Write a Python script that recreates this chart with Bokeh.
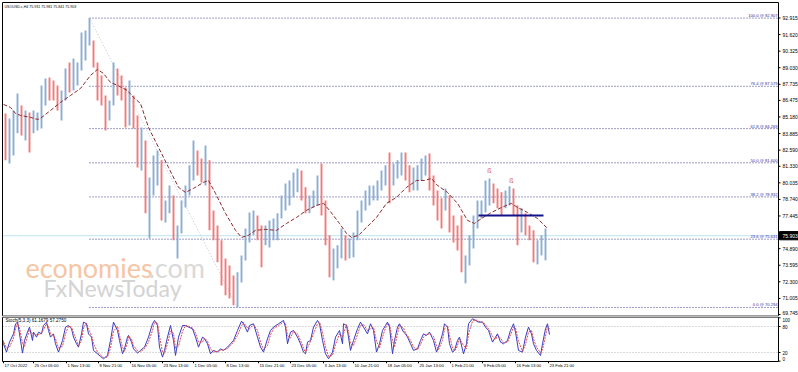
from bokeh.plotting import figure
from bokeh.layouts import column
from bokeh.models import Range1d
from bokeh.embed import file_html
from bokeh.resources import INLINE
from bokeh.core.properties import value

# ---------------- data (USOUSD H4, aggregated 4 bars per point) ----------------
bar_high = [85.46, 85.07, 85.69, 87.02, 86.08, 85.69, 85.54, 85.69, 85.54, 87.65,
            88.19, 88.27, 88.04, 87.65, 87.25, 88.97, 89.44, 89.75, 89.44, 91.79,
            91.94, 92.91, 91.16, 89.44, 88.43, 86.86, 86.47, 89.44, 88.97, 88.43,
            87.49, 88.04, 86.86, 85.30, 84.36, 83.35, 80.46, 82.18, 82.57, 81.79,
            78.66, 79.83, 79.05, 76.71, 78.66, 79.83, 81.40, 83.35, 82.57, 81.94,
            82.96, 81.79, 77.88, 76.71, 75.54, 74.13, 73.58, 72.80, 73.04, 74.36,
            76.47, 77.72, 77.88, 77.49, 76.71, 76.71, 77.10, 77.25, 77.65, 79.05,
            79.99, 80.22, 80.85, 81.16, 81.00, 79.68, 79.05, 79.44, 80.61, 81.55,
            78.66, 75.93, 74.91, 75.15, 76.47, 75.93, 75.69, 76.16, 77.88, 78.66,
            79.44, 79.83, 79.83, 80.22, 81.00, 81.40, 82.41, 81.55, 81.79, 82.41,
            82.41, 81.40, 81.24, 81.40, 81.94, 82.18, 82.33, 80.61, 79.44, 78.82,
            79.60, 79.05, 77.49, 76.71, 77.49, 74.36, 75.93, 77.49, 78.66, 78.66,
            80.22, 80.38, 79.99, 79.60, 79.29, 79.44, 79.76, 79.60, 78.27, 78.04,
            77.65, 76.71, 76.32, 75.54, 75.93, 76.47]
bar_low = [81.79, 81.55, 82.18, 83.90, 83.74, 83.35, 82.41, 83.90, 84.13, 84.29,
           86.08, 86.47, 86.47, 85.69, 84.91, 86.47, 87.10, 87.25, 87.65, 88.82,
           89.60, 90.77, 89.05, 86.47, 86.08, 84.13, 84.91, 86.08, 86.86, 86.47,
           84.36, 84.52, 84.29, 81.24, 81.00, 77.65, 75.69, 79.05, 79.83, 77.10,
           76.94, 77.65, 75.54, 74.13, 76.08, 78.11, 79.05, 80.22, 80.61, 80.07,
           79.83, 76.32, 75.54, 73.82, 72.02, 71.24, 71.00, 70.46, 70.29, 72.25,
           73.97, 75.38, 75.93, 75.54, 73.43, 75.15, 74.99, 75.54, 75.54, 77.25,
           77.88, 78.27, 78.90, 79.29, 78.66, 77.65, 77.65, 78.11, 78.27, 77.49,
           75.15, 72.65, 72.41, 73.35, 74.13, 73.97, 74.13, 74.21, 75.54, 76.94,
           77.88, 78.27, 78.66, 78.66, 79.44, 79.83, 78.43, 79.83, 80.38, 80.61,
           80.22, 79.29, 79.44, 79.44, 80.22, 80.61, 79.44, 78.27, 77.10, 76.47,
           77.88, 76.16, 75.38, 74.75, 73.04, 72.18, 73.58, 74.91, 76.47, 77.25,
           77.72, 78.27, 78.43, 78.04, 77.49, 78.04, 78.27, 77.49, 75.15, 76.16,
           75.93, 75.54, 73.82, 73.66, 74.36, 73.97]
bar_close = [83.35, 84.52, 84.91, 86.47, 84.91, 85.30, 84.52, 85.07, 85.30, 87.25,
             87.65, 87.41, 86.86, 86.47, 86.63, 88.43, 88.04, 88.82, 89.21, 90.77,
             91.16, 91.55, 89.99, 87.25, 86.47, 84.91, 85.69, 88.43, 87.65, 86.86,
             85.69, 86.47, 84.91, 81.79, 82.57, 78.66, 79.83, 81.40, 81.79, 77.88,
             78.04, 79.05, 75.93, 75.93, 78.27, 79.05, 81.00, 81.40, 81.00, 80.61,
             81.79, 77.49, 76.32, 74.75, 73.19, 72.41, 71.63, 71.24, 72.41, 73.82,
             75.54, 76.71, 77.25, 76.32, 75.93, 76.16, 76.32, 76.71, 77.10, 78.66,
             79.05, 79.44, 80.22, 80.38, 79.05, 78.27, 78.27, 79.05, 79.83, 77.88,
             75.54, 73.58, 73.82, 74.36, 75.54, 74.75, 75.15, 75.69, 77.49, 78.27,
             79.05, 79.29, 79.44, 79.83, 80.61, 81.00, 79.83, 81.00, 81.40, 81.79,
             80.61, 79.83, 80.22, 80.85, 81.40, 81.63, 79.83, 78.66, 77.88, 77.10,
             79.05, 76.71, 75.93, 75.54, 73.35, 73.58, 75.15, 76.94, 77.88, 78.27,
             79.29, 79.44, 79.05, 78.66, 78.27, 79.05, 79.29, 77.88, 76.71, 77.49,
             76.47, 75.93, 74.36, 74.75, 75.54, 75.90]
first_open = 84.00

# moving average (dashed) : bar index / value
ma_x = [0, 7, 12, 17, 27, 34, 37, 47, 57, 67, 77, 87, 94, 100, 107, 114, 124, 130,
        137, 145, 155, 165, 175, 182, 190, 200, 205, 212, 222, 232, 238, 245, 252,
        262, 273, 283, 293, 303, 313, 320, 326, 336, 343, 348, 355, 363, 373, 383,
        393, 403, 413, 421, 428, 434, 444, 454, 464, 471, 478, 488, 498, 508, 514,
        524, 534, 544]
ma_v = [86.16, 85.93, 85.46, 85.30, 85.15, 84.99, 85.07, 85.69, 86.32, 86.86, 87.41,
        88.43, 88.90, 88.58, 87.88, 87.65, 87.25, 86.71, 86.24, 84.36, 82.80, 81.24,
        79.68, 79.29, 79.60, 80.07, 80.22, 79.21, 77.65, 76.32, 75.77, 75.93, 76.32,
        76.40, 76.32, 76.86, 77.33, 77.88, 78.27, 78.43, 77.88, 76.86, 76.08, 75.77,
        75.93, 76.55, 77.33, 78.43, 78.90, 79.68, 80.22, 80.22, 80.38, 79.83, 79.29,
        78.43, 77.10, 76.86, 77.25, 77.72, 78.11, 78.43, 78.11, 77.72, 77.25, 76.47]

# price-axis tick labels
price_ticks = ["92.915", "91.620", "90.325", "89.030", "87.735", "86.475", "85.180",
               "83.885", "82.590", "81.330", "80.035", "78.740", "77.445", "76.150",
               "74.890", "73.595", "72.300", "71.005", "69.745"]

# Fibonacci retracement
fib_pct = [100.0, 76.4, 61.8, 50.0, 38.2, 23.6, 0.0]
fib_price = [92.907, 87.579, 84.269, 81.600, 78.932, 75.631, 70.294]

last_price = 75.903
header = "USOUSD.c,H4  75.931 75.981 75.841 75.903"

# neckline + markers
neck_x = [475, 540]
neck_y = 77.49
mark_x = [486, 508]
mark_y = [81.00, 80.22]
mark_t = ["\u00df", "\u00df"]

# stochastic (5,3,3) main line readings
stoch_x = [-1, 0, 3, 6, 10, 12, 14, 16, 19, 21, 24, 26, 29, 30, 33, 35, 38, 40, 43, 45,
           47, 50, 52, 55, 59, 62, 65, 68, 70, 73, 75, 78, 80, 83, 85, 88, 90, 94, 97,
           100, 104, 107, 110, 114, 116, 119, 121, 124, 125, 128, 130, 134, 137, 141,
           145, 149, 151, 154, 156, 159, 161, 164, 167, 170, 172, 175, 179, 182, 185,
           189, 192, 195, 199, 201, 204, 207, 210, 214, 217, 220, 224, 227, 230, 234,
           238, 240, 244, 246, 250, 254, 257, 260, 264, 267, 270, 275, 280, 282, 284,
           287, 290, 294, 297, 300, 302, 304, 307, 310, 314, 316, 319, 322, 325, 329,
           332, 336, 339, 340, 343, 345, 347, 350, 354, 357, 360, 364, 367, 370, 373,
           376, 379, 382, 384, 386, 389, 391, 394, 396, 400, 402, 404, 407, 410, 414,
           417, 420, 423, 426, 430, 433, 435, 439, 441, 444, 446, 449, 451, 454, 456,
           460, 463, 465, 469, 472, 475, 479, 482, 485, 489, 492, 494, 497, 500, 504,
           507, 510, 512, 515, 519, 522, 525, 528, 530, 533, 537, 539, 542, 544, 546]
stoch_k = [49.4, 40.1, 20.9, 44.0, 63.0, 86.0, 90.0, 63.0, 18.6, 47.8, 67.0, 78.6, 47.8,
           67.0, 55.5, 67.0, 63.0, 82.4, 90.1, 70.9, 55.5, 63.0, 40.1, 20.9, 47.8, 78.6,
           82.4, 74.7, 55.5, 40.1, 32.4, 63.0, 90.1, 86.3, 63.0, 55.5, 24.8, 17.1, 10.9,
           5.5, 13.2, 47.8, 90.1, 70.9, 47.8, 17.1, 28.6, 55.5, 59.4, 44.0, 28.6, 18.6,
           24.8, 32.4, 55.5, 86.3, 94.0, 82.4, 32.4, 9.4, 24.8, 55.5, 82.4, 47.8, 13.2,
           55.5, 82.4, 82.4, 78.6, 74.7, 55.5, 32.4, 55.5, 51.7, 40.1, 17.1, 24.8, 20.9,
           28.6, 24.8, 32.4, 40.1, 47.8, 70.9, 92.4, 86.3, 67.0, 82.4, 86.3, 55.5, 32.4,
           20.9, 51.7, 70.9, 78.6, 86.3, 94.0, 78.6, 40.1, 67.0, 70.9, 55.5, 40.1, 20.9,
           17.1, 44.0, 47.8, 78.6, 94.0, 86.3, 47.8, 17.1, 5.5, 20.9, 55.5, 70.9, 40.1,
           86.3, 82.4, 55.5, 24.8, 47.8, 74.7, 90.1, 78.6, 63.0, 86.3, 70.9, 20.9, 40.1,
           70.9, 82.4, 90.1, 78.6, 17.1, 47.8, 78.6, 86.3, 67.0, 63.0, 55.5, 40.1, 24.8,
           28.6, 47.8, 63.0, 59.4, 67.0, 47.8, 20.9, 32.4, 63.0, 86.3, 78.6, 40.1, 20.9,
           24.8, 47.8, 55.5, 17.1, 40.1, 86.3, 97.8, 94.0, 90.1, 90.1, 78.6, 70.9, 44.0,
           55.5, 63.0, 44.0, 40.1, 47.8, 70.9, 86.3, 67.0, 24.8, 20.9, 55.5, 78.6, 63.0,
           40.1, 24.8, 13.2, 40.1, 74.7, 86.3, 61.2]
stoch_label = "Stoch(5,3,3) 61.1679 57.2750"
stoch_levels = [80, 20]
stoch_ticks = [100, 80, 20, 0]

# time axis labels
date_pos = [0, 30, 63, 95, 127, 159, 190, 222, 255, 287, 320, 350, 383, 415, 447, 479, 512, 545]
date_txt = ["17 Oct 2022", "25 Oct 05:00", "1 Nov 13:00", "8 Nov 21:00", "16 Nov 05:00",
            "23 Nov 13:00", "1 Dec 05:00", "8 Dec 13:00", "15 Dec 21:00", "23 Dec 05:00",
            "3 Jan 13:00", "10 Jan 21:00", "18 Jan 05:00", "25 Jan 13:00", "1 Feb 21:00",
            "9 Feb 05:00", "16 Feb 13:00", "23 Feb 21:00"]

# ---------------- derived / styling ----------------
FONT = value("Liberation Sans")
n = len(bar_close)
bar_x = [2 + 4 * i for i in range(n)]
opens = [first_open] + bar_close[:-1]
UP, DN = "#88aacd", "#ef7474"
bar_col = [UP if c >= o else DN for o, c in zip(opens, bar_close)]

XL, XR = -3, 795          # whole canvas width in bar units (1 bar per px)
AX = 775                  # price-axis position (bar units)
FL = -1                   # left frame edge
P_LO, P_HI = 69.589, 94.283
P_TOP = 94.127            # top frame edge
S_LO, S_HI = -26.15, 103.08
S_BOT = -0.77             # bottom frame edge of the oscillator panel

p = figure(width=798, height=316, output_backend="svg", toolbar_location=None,
           x_range=Range1d(XL, XR), y_range=Range1d(P_LO, P_HI),
           x_axis_location=None, y_axis_location=None, min_border=0,
           background_fill_color="white", border_fill_color="white")
p.outline_line_color = None
p.grid.visible = False

# watermark
p.text(x=[22], y=[73.45], text=["economies"], text_font=value("Lato"),
       text_font_size="27px", text_color="#f6c5a3", text_baseline="alphabetic")
p.text(x=[145], y=[73.45], text=[".com"], text_font=value("Lato"),
       text_font_size="27px", text_color="#d9d9d9", text_baseline="alphabetic")
p.text(x=[40], y=[71.79], text=["FxNewsToday"], text_font=value("Lato"),
       text_font_size="23px", text_color="#d3d3d3", text_baseline="alphabetic")

# current price line
p.segment(x0=[FL], x1=[AX], y0=[last_price], y1=[last_price], line_color="#bfe4f1", line_width=1)

# fibonacci
i_hi = max(range(n), key=lambda i: bar_high[i])
i_lo = min(range(n), key=lambda i: bar_low[i])
fx0 = bar_x[i_hi]
p.segment(x0=[fx0] * len(fib_price), x1=[AX] * len(fib_price), y0=fib_price, y1=fib_price,
          line_color="#3c3c8e", line_width=1, line_dash="1 2")
p.line([bar_x[i_hi], bar_x[i_lo]], [bar_high[i_hi], bar_low[i_lo]],
       line_color="#b9c3dc", line_width=1, line_dash="1 2")
p.text(x=[AX - 1] * len(fib_price), y=fib_price,
       text=[f"{a:.1f} @ {b:.3f}" for a, b in zip(fib_pct, fib_price)],
       text_align="right", text_baseline="bottom", text_font=FONT,
       text_font_size="4.1px", text_color="#2f2fa8")

# bars
p.segment(x0=bar_x, x1=bar_x, y0=bar_low, y1=bar_high, line_color=bar_col,
          line_width=1.9, line_alpha=0.95)

# moving average
p.line(ma_x, ma_v, line_color="#8e2a2a", line_width=1, line_dash="4 2")

# neckline & markers
p.line(neck_x, [neck_y, neck_y], line_color="#12128c", line_width=2)
p.text(x=mark_x, y=mark_y, text=mark_t, text_align="center", text_baseline="middle",
       text_font=FONT, text_font_size="7px", text_color="#e0553f")

# frame + price axis
p.segment(x0=[FL, FL, AX], x1=[FL, AX, AX], y0=[P_LO, P_TOP, P_LO], y1=[P_TOP, P_TOP, P_TOP],
          line_color="black", line_width=1)
p.segment(x0=[FL], x1=[AX], y0=[69.63], y1=[69.63], line_color="#808080", line_width=1.5)
tv = [float(t) for t in price_ticks]
p.segment(x0=[AX] * len(tv), x1=[AX + 2] * len(tv), y0=tv, y1=tv, line_color="black")
p.text(x=[AX + 4] * len(tv), y=tv, text=price_ticks,
       text_baseline=["middle"] * (len(tv) - 1) + ["bottom"],
       text_font=FONT, text_font_size="5px", text_color="black")
p.quad(left=[AX + 1], right=[XR - 0.5], bottom=[last_price - 0.32], top=[last_price + 0.32],
       fill_color="black", line_color="black")
p.text(x=[AX + 4], y=[last_price], text=[f"{last_price:.3f}"], text_baseline="middle",
       text_font=FONT, text_font_size="5px", text_color="white")
p.text(x=[1], y=[93.95], text=[header], text_baseline="top", text_font=FONT,
       text_font_size="3.6px", text_color="black")

# ---------------- stochastic panel ----------------
q = figure(width=798, height=56, output_backend="svg", toolbar_location=None,
           x_range=p.x_range, y_range=Range1d(S_LO, S_HI),
           x_axis_location=None, y_axis_location=None, min_border=0,
           background_fill_color="white", border_fill_color="white")
q.outline_line_color = None
q.grid.visible = False
q.segment(x0=[FL] * len(stoch_levels), x1=[AX] * len(stoch_levels), y0=stoch_levels,
          y1=stoch_levels, line_color="#b4b4b4", line_width=1, line_dash="1 2")
stoch_d = [stoch_k[0]] + [(a + b) / 2 for a, b in zip(stoch_k[:-1], stoch_k[1:])]
q.line(stoch_x, stoch_k, line_color="#3a3ac4", line_width=1)
q.line(stoch_x, stoch_d, line_color="#e04a4a", line_width=1, line_dash="2 1")
# frame
q.segment(x0=[FL, FL, AX], x1=[FL, AX, AX], y0=[S_BOT, S_BOT, S_BOT], y1=[101.9, S_BOT, 101.9],
          line_color="black", line_width=1)
q.segment(x0=[FL], x1=[AX], y0=[101.9], y1=[101.9], line_color="#7a7a7a", line_width=2)
q.segment(x0=[AX] * 4, x1=[AX + 2] * 4, y0=stoch_ticks, y1=stoch_ticks, line_color="black")
q.text(x=[AX + 4] * 4, y=stoch_ticks, text=[str(t) for t in stoch_ticks],
       text_baseline=["top", "middle", "middle", "bottom"],
       text_font=FONT, text_font_size="4.6px", text_color="black")
q.text(x=[2], y=[100.5], text=[stoch_label], text_baseline="top", text_font=FONT,
       text_font_size="4.6px", text_color="black")
# time axis
q.segment(x0=date_pos, x1=date_pos, y0=[S_BOT] * len(date_pos), y1=[S_BOT - 4] * len(date_pos),
          line_color="black")
q.text(x=[d + 1 for d in date_pos], y=[S_BOT - 4] * len(date_pos), text=date_txt,
       text_baseline="top", text_align="left", text_font=FONT, text_font_size="4.2px",
       text_color="black")

layout = column(p, q, spacing=0)
open("out.html", "w").write(file_html(layout, INLINE))
